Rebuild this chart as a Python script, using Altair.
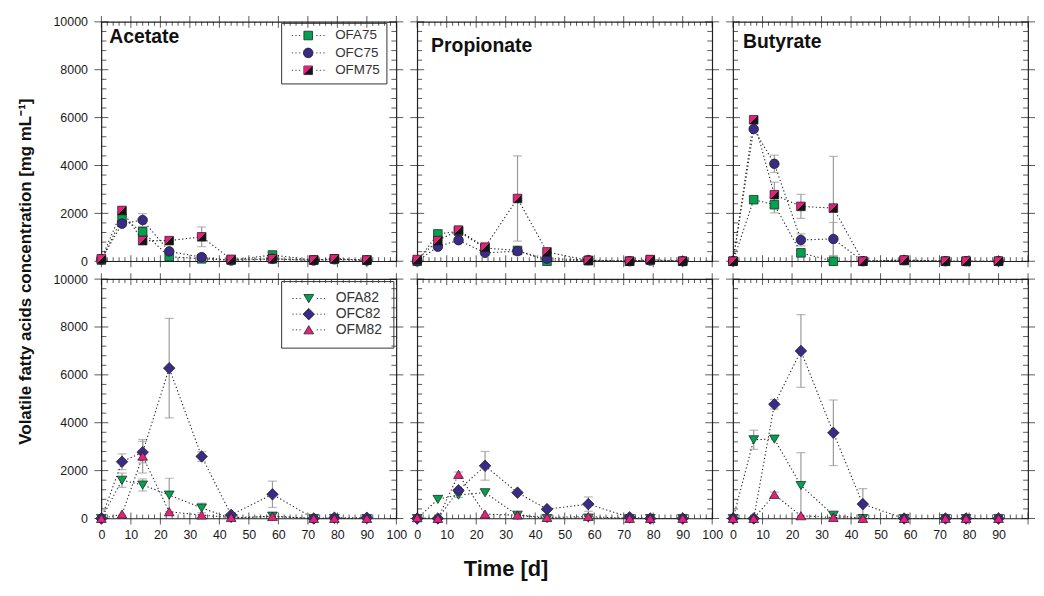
import altair as alt
import pandas as pd

FONT = "Liberation Sans"
GREEN = "#00a14f"
PURPLE = "#3b2a86"
PINK = "#e5207d"
DARK = "#151515"

TIME = [0, 7, 14, 23, 34, 44, 58, 72, 79, 90]
ACIDS = ["Acetate", "Propionate", "Butyrate"]
SERIES_75 = ["OFA75", "OFC75", "OFM75"]
SERIES_82 = ["OFA82", "OFC82", "OFM82"]

# ---- values [mg mL-1] -------------------------------------------------
ACE_OFA75 = [50, 1800, 1230, 190, 100, 50, 260, 50, 100, 50]
ACE_OFC75 = [80, 1570, 1720, 410, 170, 30, 100, 30, 80, 30]
ACE_OFM75 = [100, 2120, 860, 860, 1020, 80, 100, 50, 100, 50]
PRO_OFA75 = [0, 1140, 1250, 550, 450, 0, 30, 0, 50, 0]
PRO_OFC75 = [0, 610, 880, 350, 420, 110, 50, 0, 30, 0]
PRO_OFM75 = [70, 860, 1300, 590, 2620, 390, 30, 0, 70, 0]
BUT_OFA75 = [0, 2570, 2360, 350, 0, 0, 30, 0, 0, 0]
BUT_OFC75 = [0, 5520, 4070, 890, 930, 0, 50, 0, 0, 0]
BUT_OFM75 = [0, 5910, 2780, 2290, 2220, 0, 50, 0, 0, 0]

ACE_OFA82 = [0, 1600, 1400, 980, 440, 0, 100, 0, 0, 0]
ACE_OFC82 = [0, 2370, 2770, 6280, 2590, 150, 1010, 0, 30, 30]
ACE_OFM82 = [0, 180, 2600, 280, 140, 40, 80, 0, 0, 0]
PRO_OFA82 = [0, 800, 980, 1080, 140, 0, 20, 0, 0, 0]
PRO_OFC82 = [0, 0, 1180, 2200, 1080, 390, 600, 50, 0, 0]
PRO_OFM82 = [30, 0, 1840, 180, 140, 40, 80, 0, 0, 0]
BUT_OFA82 = [0, 3290, 3320, 1380, 140, 0, 0, 0, 0, 0]
BUT_OFC82 = [0, 0, 4770, 7000, 3580, 600, 0, 0, 0, 0]
BUT_OFM82 = [0, 0, 1000, 110, 40, 0, 0, 0, 0, 0]

# ---- standard deviations ----------------------------------------------
ACE_OFA75_ERR = [0, 150, 200, 60, 0, 0, 60, 0, 0, 0]
ACE_OFC75_ERR = [0, 120, 270, 0, 0, 0, 0, 0, 0, 0]
ACE_OFM75_ERR = [0, 100, 0, 0, 410, 0, 0, 0, 0, 0]
PRO_OFA75_ERR = [0, 0, 0, 0, 0, 0, 0, 0, 0, 0]
PRO_OFC75_ERR = [0, 0, 0, 0, 0, 0, 0, 0, 0, 0]
PRO_OFM75_ERR = [0, 0, 0, 0, 1780, 0, 0, 0, 0, 0]
BUT_OFA75_ERR = [0, 0, 340, 100, 150, 0, 0, 0, 0, 0]
BUT_OFC75_ERR = [0, 0, 360, 250, 690, 0, 0, 0, 0, 0]
BUT_OFM75_ERR = [0, 0, 520, 500, 2160, 0, 0, 0, 0, 0]

ACE_OFA82_ERR = [0, 300, 250, 700, 200, 0, 0, 0, 0, 0]
ACE_OFC82_ERR = [0, 330, 450, 2080, 200, 0, 550, 0, 0, 0]
ACE_OFM82_ERR = [0, 0, 700, 0, 0, 0, 0, 0, 0, 0]
PRO_OFA82_ERR = [0, 0, 100, 0, 0, 0, 0, 0, 0, 0]
PRO_OFC82_ERR = [0, 0, 0, 600, 0, 0, 300, 0, 0, 0]
PRO_OFM82_ERR = [0, 0, 100, 0, 0, 0, 0, 0, 0, 0]
BUT_OFA82_ERR = [0, 400, 0, 1370, 100, 0, 0, 0, 0, 0]
BUT_OFC82_ERR = [0, 0, 200, 1520, 1370, 650, 0, 0, 0, 0]
BUT_OFM82_ERR = [0, 0, 100, 0, 0, 0, 0, 0, 0, 0]

# ---- axis ticks -------------------------------------------------------
X_MAJOR = [0, 10, 20, 30, 40, 50, 60, 70, 80, 90, 100]
X_LABELS_LAST = [0, 10, 20, 30, 40, 50, 60, 70, 80, 90]
X_MINOR = [v for v in range(2, 100, 2) if v % 10]
Y_MAJOR = [0, 2000, 4000, 6000, 8000, 10000]
Y_MINOR = [v for v in range(400, 10000, 400) if v % 2000]

TABLE = {
    ("Acetate", "OFA75"): (ACE_OFA75, ACE_OFA75_ERR),
    ("Acetate", "OFC75"): (ACE_OFC75, ACE_OFC75_ERR),
    ("Acetate", "OFM75"): (ACE_OFM75, ACE_OFM75_ERR),
    ("Propionate", "OFA75"): (PRO_OFA75, PRO_OFA75_ERR),
    ("Propionate", "OFC75"): (PRO_OFC75, PRO_OFC75_ERR),
    ("Propionate", "OFM75"): (PRO_OFM75, PRO_OFM75_ERR),
    ("Butyrate", "OFA75"): (BUT_OFA75, BUT_OFA75_ERR),
    ("Butyrate", "OFC75"): (BUT_OFC75, BUT_OFC75_ERR),
    ("Butyrate", "OFM75"): (BUT_OFM75, BUT_OFM75_ERR),
    ("Acetate", "OFA82"): (ACE_OFA82, ACE_OFA82_ERR),
    ("Acetate", "OFC82"): (ACE_OFC82, ACE_OFC82_ERR),
    ("Acetate", "OFM82"): (ACE_OFM82, ACE_OFM82_ERR),
    ("Propionate", "OFA82"): (PRO_OFA82, PRO_OFA82_ERR),
    ("Propionate", "OFC82"): (PRO_OFC82, PRO_OFC82_ERR),
    ("Propionate", "OFM82"): (PRO_OFM82, PRO_OFM82_ERR),
    ("Butyrate", "OFA82"): (BUT_OFA82, BUT_OFA82_ERR),
    ("Butyrate", "OFC82"): (BUT_OFC82, BUT_OFC82_ERR),
    ("Butyrate", "OFM82"): (BUT_OFM82, BUT_OFM82_ERR),
}

rows = []
for (acid, series), (vals, errs) in TABLE.items():
    for t, v, e in zip(TIME, vals, errs):
        rows.append({"acid": acid, "series": series, "time": t, "value": v, "err": e})
df = pd.DataFrame(rows)

# ---- marker shapes (custom symbol paths) ------------------------------
SQ = "M-0.97,-0.97H0.97V0.97H-0.97Z"
CI = "M-1.08,0A1.08,1.08,0,1,0,1.08,0A1.08,1.08,0,1,0,-1.08,0Z"
DI = "M0,-1.3L1.3,0L0,1.3L-1.3,0Z"
TD = "M-1.1,-0.9H1.1L0,0.95Z"
TU = "M-1.1,0.9H1.1L0,-0.95Z"
TRI_TL = "M-0.97,-0.97H0.97L-0.97,0.97Z"
NOTHING = "M0,0Z"
DOTS = "M-3.7,0h0.3M-2.9,0h0.3M-2.1,0h0.3M1.8,0h0.3M2.6,0h0.3M3.4,0h0.3"

GRAD = {
    "gradient": "linear", "x1": 0, "y1": 0, "x2": 1, "y2": 1,
    "stops": [
        {"offset": 0, "color": PINK}, {"offset": 0.5, "color": PINK},
        {"offset": 0.5, "color": DARK}, {"offset": 1, "color": DARK},
    ],
}

SHAPES = {0: [SQ, CI, SQ], 1: [TD, DI, TU]}
FILLS = {0: [GREEN, PURPLE, DARK], 1: [GREEN, PURPLE, PINK]}
SERIES = {0: SERIES_75, 1: SERIES_82}

XS = alt.Scale(domain=[0, 100], nice=False, zero=False)
YS = alt.Scale(domain=[0, 10000], nice=False, zero=False)
W, H = 297, 241
MSIZE = 80

LABEL_POS = [(8, 21), (14, 30), (10, 26)]

LEG_COMMON = dict(orient="none", direction="vertical", title=None,
                  symbolSize=MSIZE, labelFont=FONT, labelColor="#333333")
LEG_TOP = dict(LEG_COMMON, legendX=181, legendY=1, padding=6, rowPadding=2.5, clipHeight=13.5,
               symbolOffset=14.5, labelOffset=20.4, labelFontSize=13.5,
               labelExpr="datum.label + '   '")
LEG_BOT = dict(LEG_COMMON, legendX=181, legendY=2, padding=10.5, rowPadding=1.8, clipHeight=14,
               symbolOffset=10.3, labelOffset=20.1, labelFontSize=14,
               labelExpr="datum.label + ' '")


def tick_layers(xaxis, yaxis):
    xmaj = pd.DataFrame({"v": X_MAJOR})
    xmin = pd.DataFrame({"v": X_MINOR})
    ymaj = pd.DataFrame({"v": Y_MAJOR})
    ymin = pd.DataFrame({"v": Y_MINOR})
    out = []
    for yd, off in [(0, -2), (10000, 2)]:
        out.append(alt.Chart(xmaj).mark_tick(orient="vertical", size=12, thickness=1, color=DARK)
                   .encode(x=alt.X("v:Q", scale=XS, axis=xaxis),
                           y=alt.YDatum(yd, type="quantitative", scale=YS, axis=yaxis)))
        out.append(alt.Chart(xmin).mark_tick(orient="vertical", size=4, thickness=1, color=DARK, yOffset=off)
                   .encode(x=alt.X("v:Q", scale=XS, axis=xaxis),
                           y=alt.YDatum(yd, type="quantitative", scale=YS, axis=yaxis)))
    for xd, off in [(0, 2.5), (100, -2.5)]:
        out.append(alt.Chart(ymaj).mark_tick(orient="horizontal", size=14, thickness=1, color=DARK)
                   .encode(y=alt.Y("v:Q", scale=YS, axis=yaxis),
                           x=alt.XDatum(xd, type="quantitative", scale=XS, axis=xaxis)))
        out.append(alt.Chart(ymin).mark_tick(orient="horizontal", size=5, thickness=1, color=DARK, xOffset=off)
                   .encode(y=alt.Y("v:Q", scale=YS, axis=yaxis),
                           x=alt.XDatum(xd, type="quantitative", scale=XS, axis=xaxis)))
    return out


def panel(r, c):
    acid = ACIDS[c]
    series = SERIES[r]
    sub = df[(df["acid"] == acid) & (df["series"].isin(series))]
    base = alt.Chart(sub)

    if r == 1:
        ax = dict(values=X_LABELS_LAST if c == 2 else X_MAJOR, ticks=False, domain=False, grid=False,
                  labelPadding=10, labelFlush=False, labelOverlap=False, title=None)
        if c == 0:
            ax.update(title="Time [d]", titleX=407, titleY=50, titleAlign="center",
                      titleBaseline="middle", titleFontSize=22, titleFontWeight="bold", titleAngle=0)
        xaxis = alt.Axis(**ax)
    else:
        xaxis = None
    if c == 0:
        ay = dict(values=Y_MAJOR, format="d", ticks=False, domain=False, grid=False, labelPadding=14,
                  title=None)
        if r == 0:
            ay.update(title="Volatile fatty acids concentration [mg mL\u207b\u00b9]", titleX=-76, titleY=251,
                      titleAngle=270, titleAlign="center", titleBaseline="middle",
                      titleFontSize=17, titleFontWeight="bold")
        yaxis = alt.Axis(**ay)
    else:
        yaxis = None

    def X(f):
        return alt.X(f, scale=XS, axis=xaxis)

    def Y(f):
        return alt.Y(f, scale=YS, axis=yaxis)

    err = (base.transform_filter("datum.err > 0")
           .transform_calculate(lo="datum.value - datum.err", hi="datum.value + datum.err")
           .mark_errorbar(ticks=True, color="#9b9b9b", size=9, thickness=1.2)
           .encode(x=X("time:Q"), y=Y("lo:Q"), y2="hi:Q"))
    line = (base.mark_line(strokeDash=[1.3, 2.4], strokeWidth=1.1, color="#2a2a2a")
            .encode(x=X("time:Q"), y=Y("value:Q"), detail="series:N", order="time:Q"))
    pts = (base.mark_point(filled=True, size=MSIZE, opacity=1, stroke="#1a1a1a", strokeWidth=0.7)
           .encode(x=X("time:Q"), y=Y("value:Q"),
                   shape=alt.Shape("series:N", scale=alt.Scale(domain=series, range=SHAPES[r]), legend=None),
                   fill=alt.Fill("series:N", scale=alt.Scale(domain=series, range=FILLS[r]), legend=None,
                                 condition={"test": "datum.series === 'OFM75'", "value": GRAD})))
    layers = tick_layers(xaxis, yaxis) + [err, line, pts]

    if c == 0:
        leg = LEG_TOP if r == 0 else LEG_BOT
        lpaths = [p + DOTS for p in SHAPES[r]]
        legA_kw = dict(leg, strokeColor="#333333", symbolStrokeWidth=0.8)
        legA = (base.transform_filter("false")
                .mark_point(filled=True, size=MSIZE, opacity=1, strokeWidth=0.8)
                .encode(x=X("time:Q"), y=Y("value:Q"),
                        shape=alt.Shape("series:N", scale=alt.Scale(domain=series, range=lpaths),
                                        legend=alt.Legend(**legA_kw)),
                        fill=alt.Fill("series:N", scale=alt.Scale(domain=series, range=FILLS[r]),
                                      legend=alt.Legend(**legA_kw)),
                        stroke=alt.Stroke("series:N", scale=alt.Scale(domain=series,
                                                                      range=["#222222"] * 3),
                                          legend=alt.Legend(**legA_kw))))
        layers.append(legA)
        if r == 0:
            legB_kw = dict(leg, labelOpacity=0, symbolStrokeWidth=0, strokeColor="transparent")
            legB = (base.transform_filter("false")
                    .mark_point(filled=True, size=MSIZE, opacity=1, strokeWidth=0)
                    .encode(x=X("time:Q"), y=Y("value:Q"),
                            shape=alt.Shape("series:N", scale=alt.Scale(domain=series,
                                                                        range=[NOTHING, NOTHING, TRI_TL]),
                                            legend=alt.Legend(**legB_kw)),
                            fill=alt.Fill("series:N", scale=alt.Scale(domain=series,
                                                                      range=["transparent", "transparent", PINK]),
                                          legend=alt.Legend(**legB_kw))))
            layers.append(legB)

    if r == 0:
        lx, ly = LABEL_POS[c]
        lab = (alt.Chart(pd.DataFrame({"label": [acid]}))
               .mark_text(align="left", baseline="alphabetic", font=FONT, fontSize=19.5,
                          fontWeight="bold", color="#111111")
               .encode(text="label:N", x=alt.value(lx), y=alt.value(ly)))
        layers.append(lab)

    return (alt.layer(*layers).properties(width=W, height=H)
            .resolve_scale(shape="independent", fill="independent", stroke="independent"))


panels = [panel(r, c) for r in range(2) for c in range(3)]

chart = (alt.concat(*panels, columns=3, spacing={"row": 18, "column": 21}, bounds="flush")
         .resolve_scale(shape="independent", fill="independent", stroke="independent")
         .properties(padding={"left": 8, "top": 5, "right": 0, "bottom": 0})
         .configure_view(stroke="#222222", strokeWidth=1.2)
         .configure_axis(labelFont=FONT, labelFontSize=12.5, labelColor="#1a1a1a",
                         titleFont=FONT, titleColor="#111111")
         .configure_legend(strokeWidth=1))

chart.save("out.html", embed_options={"renderer": "svg", "actions": False})
